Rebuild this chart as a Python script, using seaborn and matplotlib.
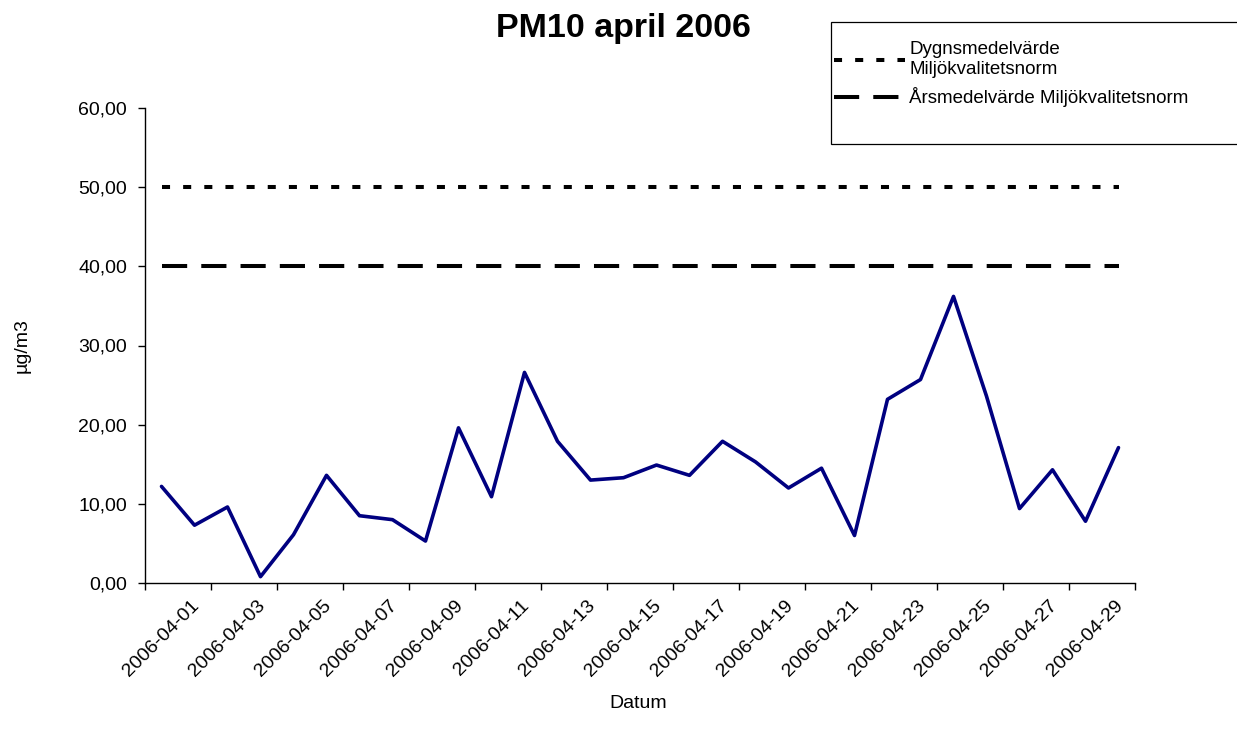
import matplotlib
matplotlib.use("Agg")
import matplotlib.pyplot as plt
import seaborn as sns
import pandas as pd
import numpy as np
from matplotlib import font_manager as fm
from matplotlib.ticker import FuncFormatter, FixedLocator, FixedFormatter, NullFormatter
from matplotlib.patches import Rectangle

# ---- data ----
dates = ["2006-04-%02d" % d for d in range(1, 31)]
pm10 = [12.2, 7.3, 9.6, 0.8, 6.1, 13.6, 8.5, 8.0, 5.3, 19.6,
        10.9, 26.6, 17.9, 13.0, 13.3, 14.9, 13.6, 17.9, 15.3, 12.0,
        14.5, 6.0, 23.2, 25.7, 36.2, 23.6, 9.4, 14.3, 7.8, 17.1]
dygn_norm = 50.0
ars_norm = 40.0
label_dygn = "Dygnsmedelvärde\nMiljökvalitetsnorm"
label_ars = "Årsmedelvärde Miljökvalitetsnorm"
title = "PM10 april 2006"
xlabel = "Datum"
ylabel = "µg/m3"
yticks = [0, 10, 20, 30, 40, 50, 60]

sns.set_theme(style="ticks")
plt.rcParams['font.family'] = ['Liberation Sans', 'DejaVu Sans']
plt.rcParams['text.color'] = 'black'
plt.rcParams['axes.labelcolor'] = 'black'
plt.rcParams['xtick.color'] = 'black'
plt.rcParams['ytick.color'] = 'black'


def find_font(name):
    for f in fm.fontManager.ttflist:
        if f.fname.endswith(name):
            return f.fname
    return None


bold_path = find_font("LiberationSans-Bold.ttf")
if bold_path:
    title_fp = fm.FontProperties(fname=bold_path, size=24.5)
else:
    title_fp = fm.FontProperties(family="DejaVu Sans", weight="bold", size=22)

W, H = 1237, 742
fig = plt.figure(figsize=(W / 100, H / 100), dpi=100)
ax = fig.add_axes([145 / W, 1 - 583 / H, 990 / W, 475 / H])

idx = np.arange(len(dates))
df = pd.DataFrame({"idx": idx, "date": dates, "pm10": pm10})

sns.lineplot(data=df, x="idx", y="pm10", color="#000080", lw=2.6, ax=ax)

lw_norm = 2.9
l1, = ax.plot([idx[0], idx[-1]], [dygn_norm, dygn_norm], color="black", lw=lw_norm,
              dashes=(2, 3.25), dash_capstyle="butt")
l2, = ax.plot([idx[0], idx[-1]], [ars_norm, ars_norm], color="black", lw=lw_norm,
              dashes=(6.25, 3.5), dash_capstyle="butt")

ax.set_xlim(-0.5, len(dates) - 0.5)
ax.set_ylim(0, 60)
ax.set_yticks(yticks)
ax.yaxis.set_major_formatter(FuncFormatter(lambda v, p: f"{v:.2f}".replace(".", ",")))

ax.xaxis.set_major_locator(FixedLocator(np.arange(-0.5, len(dates), 2)))
ax.xaxis.set_major_formatter(NullFormatter())
ax.xaxis.set_minor_locator(FixedLocator(idx[::2]))
ax.xaxis.set_minor_formatter(FixedFormatter(dates[::2]))
ax.tick_params(axis="x", which="major", length=5, width=1, direction="out")
ax.tick_params(axis="x", which="minor", length=0, pad=10, labelsize=14, labelrotation=45)
ax.tick_params(axis="y", which="major", length=5, width=1, direction="out",
               labelsize=14, pad=8)
for lbl in ax.get_xticklabels(minor=True):
    lbl.set_ha("center")
    lbl.set_va("top")

for s in ["top", "right"]:
    ax.spines[s].set_visible(False)
for s in ["left", "bottom"]:
    ax.spines[s].set_color("black")
    ax.spines[s].set_linewidth(1.0)

ax.set_xlabel(xlabel, fontsize=14)
ax.xaxis.set_label_coords(0.498, -0.235)
ax.set_ylabel(ylabel, fontsize=14)
ax.yaxis.set_label_coords(-0.116, 0.5)

fig.text(623 / W, 1 - 28 / H, title, fontproperties=title_fp, ha="center", va="center")

# legend box
fig.patches.append(Rectangle((831 / W, 1 - 144 / H), (W + 10 - 831) / W, 122 / H,
                             transform=fig.transFigure, facecolor="white", edgecolor="black",
                             lw=0.9, zorder=0))
leg = fig.legend([l1, l2], [label_dygn, label_ars], loc="upper left",
                 bbox_to_anchor=(826 / W, 1 - 34 / H), frameon=False, fontsize=13.5,
                 handlelength=3.8, handletextpad=0.25, labelspacing=0.5, borderaxespad=0)
for t in leg.get_texts():
    t.set_linespacing(1.2)

fig.savefig("out.png", dpi=100)
